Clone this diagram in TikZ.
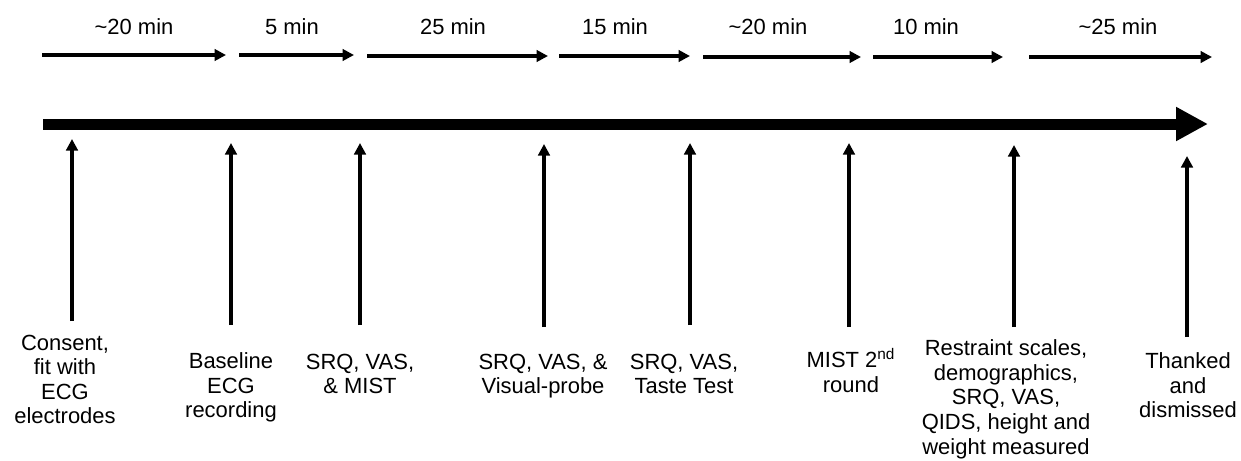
\documentclass[tikz,border=0pt]{standalone}
\usepackage{fontspec}
\setmainfont{Liberation Sans}
\usepackage{tikz}
\usetikzlibrary{arrows.meta}

\begin{document}
\begin{tikzpicture}[x=0.02cm,y=-0.02cm,->,>={Triangle[length=0.23cm,width=0.23cm]},
                    line width=2pt,font=\fontsize{12.5}{14}\selectfont]
  \tikzstyle{dur}=[inner sep=0pt]
  \tikzstyle{event}=[align=center,anchor=north,inner sep=0pt]
  \tikzstyle{timeline}=[line width=0.22cm,-{Triangle[length=0.64cm,width=0.64cm]}]

  \useasboundingbox (0,0) rectangle (1241,460);

  % durations
  \node[dur] (t1) at (134,27)  {\textasciitilde20 min};
  \node[dur] (t2) at (292,27)  {5 min};
  \node[dur] (t3) at (453,27)  {25 min};
  \node[dur] (t4) at (615,27)  {15 min};
  \node[dur] (t5) at (768,27)  {\textasciitilde20 min};
  \node[dur] (t6) at (926,27)  {10 min};
  \node[dur] (t7) at (1118,27) {\textasciitilde25 min};

  \coordinate (a1) at (42,55);   \coordinate (b1) at (226,55);
  \coordinate (a2) at (239,55);  \coordinate (b2) at (354,55);
  \coordinate (a3) at (367,56);  \coordinate (b3) at (548,56);
  \coordinate (a4) at (559,56);  \coordinate (b4) at (690,56);
  \coordinate (a5) at (703,57);  \coordinate (b5) at (861,57);
  \coordinate (a6) at (873,57);  \coordinate (b6) at (1003,57);
  \coordinate (a7) at (1029,57); \coordinate (b7) at (1212,57);

  \draw (a1) -- (b1);
  \draw (a2) -- (b2);
  \draw (a3) -- (b3);
  \draw (a4) -- (b4);
  \draw (a5) -- (b5);
  \draw (a6) -- (b6);
  \draw (a7) -- (b7);

  % main time line
  \coordinate (start) at (43,124);
  \coordinate (end)   at (1208,124);
  \draw[timeline] (start) -- (end);

  % what happens at each point
  \node[event] (consent)  at (65,333)   {Consent,\\fit with\\ECG\\electrodes};
  \node[event] (baseline) at (231,351)  {Baseline\\ECG\\recording};
  \node[event] (mist)     at (360,352)  {SRQ, VAS,\\\& MIST};
  \node[event] (probe)    at (543,352)  {SRQ, VAS, \&\\Visual-probe};
  \node[event] (taste)    at (684,352)  {SRQ, VAS,\\Taste Test};
  \node[event] (mist2)    at (851,347)  {MIST 2\textsuperscript{nd}\\round};
  \node[event] (scales)   at (1006,338) {Restraint scales,\\demographics,\\SRQ, VAS,\\QIDS, height and\\weight measured};
  \node[event] (thanks)   at (1188,351) {Thanked\\and\\dismissed};

  \coordinate (u1) at (72,321);   \coordinate (v1) at (72,139);
  \coordinate (u2) at (231,325);  \coordinate (v2) at (231,143);
  \coordinate (u3) at (360,325);  \coordinate (v3) at (360,143);
  \coordinate (u4) at (544,327);  \coordinate (v4) at (544,144);
  \coordinate (u5) at (690,325);  \coordinate (v5) at (690,143);
  \coordinate (u6) at (849,327);  \coordinate (v6) at (849,143);
  \coordinate (u7) at (1014,327); \coordinate (v7) at (1014,145);
  \coordinate (u8) at (1187,337); \coordinate (v8) at (1187,156);

  \draw (u1) -- (v1);
  \draw (u2) -- (v2);
  \draw (u3) -- (v3);
  \draw (u4) -- (v4);
  \draw (u5) -- (v5);
  \draw (u6) -- (v6);
  \draw (u7) -- (v7);
  \draw (u8) -- (v8);
\end{tikzpicture}
\end{document}
